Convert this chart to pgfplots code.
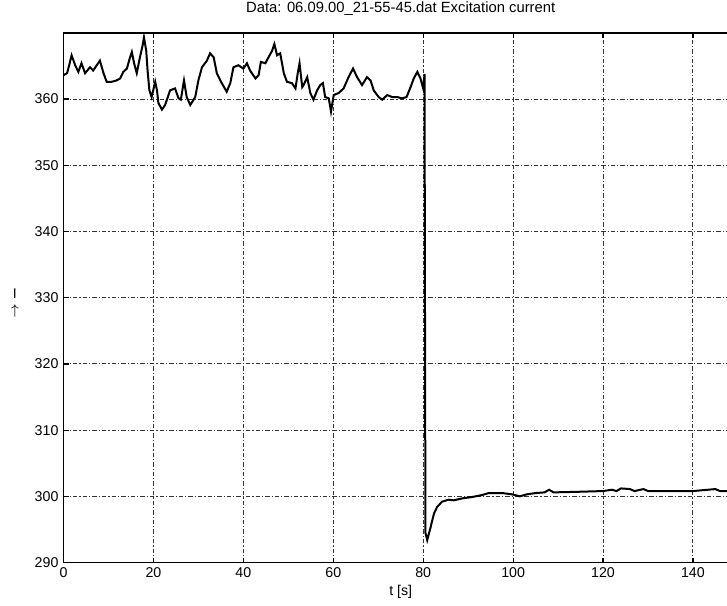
\documentclass[border=0pt]{standalone}
\usepackage{pgfplots}
\pgfplotsset{compat=1.18}
\usepackage{fontspec}
\setmainfont{Liberation Sans}
\begin{document}
\begin{tikzpicture}
\begin{axis}[
  name=ax,
  scale only axis,
  width=337.2pt, height=264.9pt,
  xmin=0, xmax=150, ymin=290, ymax=370,
  xtick={0,20,...,140},
  ytick={290,300,...,360},
  grid=major,
  grid style={black!80, line width=0.45pt, dash pattern=on 2.2pt off 1pt on 0.6pt off 1pt},
  axis line style={line width=0.9pt},
  tick align=inside, major tick length=2.5pt,
  tick style={black, line width=0.6pt},
  /pgf/number format/assume math mode=true,
  tick label style={font=\fontsize{7.1}{8}\selectfont},
  yticklabel style={xshift=1pt},
  xticklabel style={yshift=1pt},
  title={Data: 06.09.00\_21-55-45.dat Excitation current},
  title style={font=\fontsize{7.4}{8}\selectfont, yshift=-1pt},
  xlabel={t [s]},
  xlabel style={font=\fontsize{7.1}{8}\selectfont, yshift=3pt},
  ylabel={I\\[1pt]$\uparrow$},
  ylabel style={rotate=-90, align=center, font=\fontsize{7}{7}\selectfont, at={(ticklabel cs:0.49)}, xshift=-1pt},
]
\addplot[black, line width=1pt] coordinates {
(0,363.6) (0.8,363.9) (1.3,365.2) (1.8,366.6) (2.6,365.1) (3.3,364.1) (4.0,365.4) (4.8,363.9)
(5.9,364.8) (6.6,364.3) (7.4,365.1) (8.1,365.8) (8.9,363.9) (9.6,362.6) (10.7,362.6)
(11.8,362.8) (12.6,363.1) (13.3,364.1) (14.1,364.6) (14.8,366.3) (15.2,367.1) (15.7,365.4)
(16.3,363.9) (17.0,366.3) (17.6,368.1) (17.9,369.3) (18.4,367.3) (18.7,364.3) (19.1,361.3)
(19.6,360.3) (20.4,362.6) (20.8,361.3) (21.1,359.4) (21.9,358.4) (22.6,359.1) (23.7,361.3)
(24.8,361.6) (25.6,360.1) (26.1,359.9) (26.8,362.8) (27.4,360.3) (28.2,359.1) (29.3,360.3)
(30.0,362.8) (30.8,364.8) (31.9,365.8) (32.6,366.9) (33.4,366.3) (34.1,363.9) (35.2,362.4)
(36.3,361.1) (37.1,362.4) (37.8,364.8) (38.9,365.1) (40.0,364.6) (40.8,365.4) (41.5,364.3)
(42.7,363.1) (43.4,363.6) (43.9,365.6) (44.9,365.4) (45.6,366.3) (46.4,367.3) (46.9,368.3)
(47.5,366.6) (48.2,366.9) (49.0,363.9) (49.7,362.6) (50.8,362.4) (51.6,361.6) (52.1,363.9)
(52.5,365.4) (53.1,361.8) (53.4,362.1) (54.2,363.3) (54.9,360.9) (55.6,359.9) (56.4,361.3)
(57.1,362.1) (57.7,362.4) (58.2,360.3) (59.0,360.1) (59.5,358.1) (60.1,360.6) (61.2,360.9)
(62.3,361.6) (63.4,363.3) (64.4,364.6) (65.3,363.3) (66.4,362.1) (67.5,363.3) (68.3,362.8)
(69.0,361.3) (70.1,360.3) (70.9,359.9) (72.0,360.6) (73.1,360.3) (74.2,360.3) (75.3,360.1)
(76.3,360.3) (77.2,361.8) (77.9,363.1) (78.7,364.1) (79.4,363.1) (80.0,361.6) (80.3,363.8)
(80.5,294.5) (80.9,293.4) (81.6,295.2) (82.4,297.4) (83.1,298.4) (84.2,299.2) (85.7,299.5)
(86.8,299.4) (88.7,299.7) (90.9,299.9) (93.1,300.2) (94.6,300.5) (97.6,300.5) (99.8,300.3)
(101.5,300.0) (103,300.3) (105,300.5) (107,300.6) (108,301.0) (109,300.6) (115,300.7)
(120,300.8) (122,301.0) (123,300.8) (124,301.2) (126,301.1) (127,300.8) (129,301.1)
(130,300.8) (140,300.8) (145,301.1) (146,300.8) (150,300.8)
};
\end{axis}
\pgfresetboundingbox
\path[use as bounding box] ([xshift=-31.75pt,yshift=-21.25pt]ax.south west) rectangle ([xshift=331.75pt,yshift=16.4pt]ax.north west);
\end{tikzpicture}
\end{document}
